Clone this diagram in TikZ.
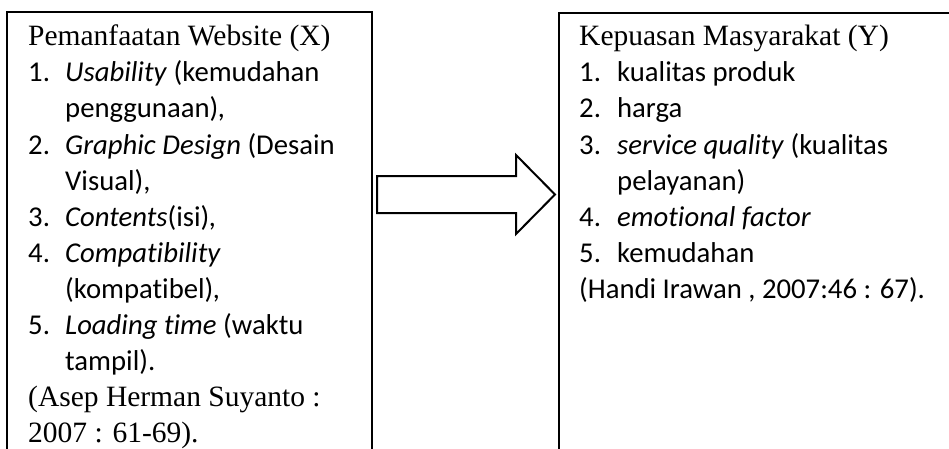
\documentclass[tikz,border=0pt]{standalone}
\usepackage{fontspec}
\usetikzlibrary{calc}
\setmainfont{Liberation Serif}
\newfontfamily\calibrifont[Ligatures=NoCommon]{Carlito}
\newcommand{\lnumL}[1]{\makebox[37pt][l]{#1}}
\newcommand{\lnumR}[1]{\makebox[38pt][l]{#1}}
\begin{document}
\begin{tikzpicture}[x=1pt,y=-1pt,
  boxline/.style={line width=2pt,line join=miter},
  ttl/.style={anchor=base west,inner sep=0pt,font=\fontsize{29.5}{36}\selectfont},
  itm/.style={anchor=base west,inner sep=0pt,font=\calibrifont\fontsize{28.7}{36}\selectfont},
  blockarrow/.style={line width=2pt,line join=miter,fill=white}]
\useasboundingbox (0,0) rectangle (949,449);
\clip (0,0) rectangle (949,449);
% boxes (open at the bottom, continuing below the page)
\draw[boxline] (7,480) -- (7,12) -- (371.5,12) -- (371.5,480);
\draw[boxline] (558.5,480) -- (558.5,13.5) -- (960,13.5);
% left box text
\node[ttl] (l0) at (28,46) {Pemanfaatan Website (X)};
\node[itm] (l1) at (28,82) {\lnumL{1.}\textit{Usability} (kemudahan};
\node[itm] (l2) at (65,118) {penggunaan)\textit{,}};
\node[itm] (l3) at (28,154) {\lnumL{2.}\textit{Graphic Design} (Desain};
\node[itm] (l4) at (65,190) {Visual),};
\node[itm] (l5) at (28,226) {\lnumL{3.}\textit{Contents}(isi)\textit{,}};
\node[itm] (l6) at (28,262) {\lnumL{4.}\textit{Compatibility}};
\node[itm] (l7) at (65,298) {(kompatibel)\textit{,}};
\node[itm] (l8) at (28,334) {\lnumL{5.}\textit{Loading time} (waktu};
\node[itm] (l9) at (65,370) {tampil).};
\node[ttl] (l10) at (28,406) {(Asep Herman Suyanto :};
\node[ttl] (l11) at (28,442) {2007 : 61-69).};
% right box text
\node[ttl] (r0) at (579,46) {Kepuasan Masyarakat (Y)};
\node[itm] (r1) at (579,82) {\lnumR{1.}kualitas produk};
\node[itm] (r2) at (579,118) {\lnumR{2.}harga};
\node[itm] (r3) at (579,154) {\lnumR{3.}\textit{service quality} (kualitas};
\node[itm] (r4) at (617,190) {pelayanan)};
\node[itm] (r5) at (579,226) {\lnumR{4.}\textit{emotional factor}};
\node[itm] (r6) at (579,262) {\lnumR{5.}kemudahan};
\node[itm] (r7) at (579,298) {(Handi Irawan , 2007:46 : 67).};
% block arrow
\coordinate (atail) at (377,194.5);
\coordinate (atip) at (555,194.5);
\draw[blockarrow] ($(atail)+(0,-18.5)$) -- (516,176) -- (516,155) -- (atip) -- (516,234) -- (516,213) -- ($(atail)+(0,18.5)$) -- cycle;
\end{tikzpicture}
\end{document}
